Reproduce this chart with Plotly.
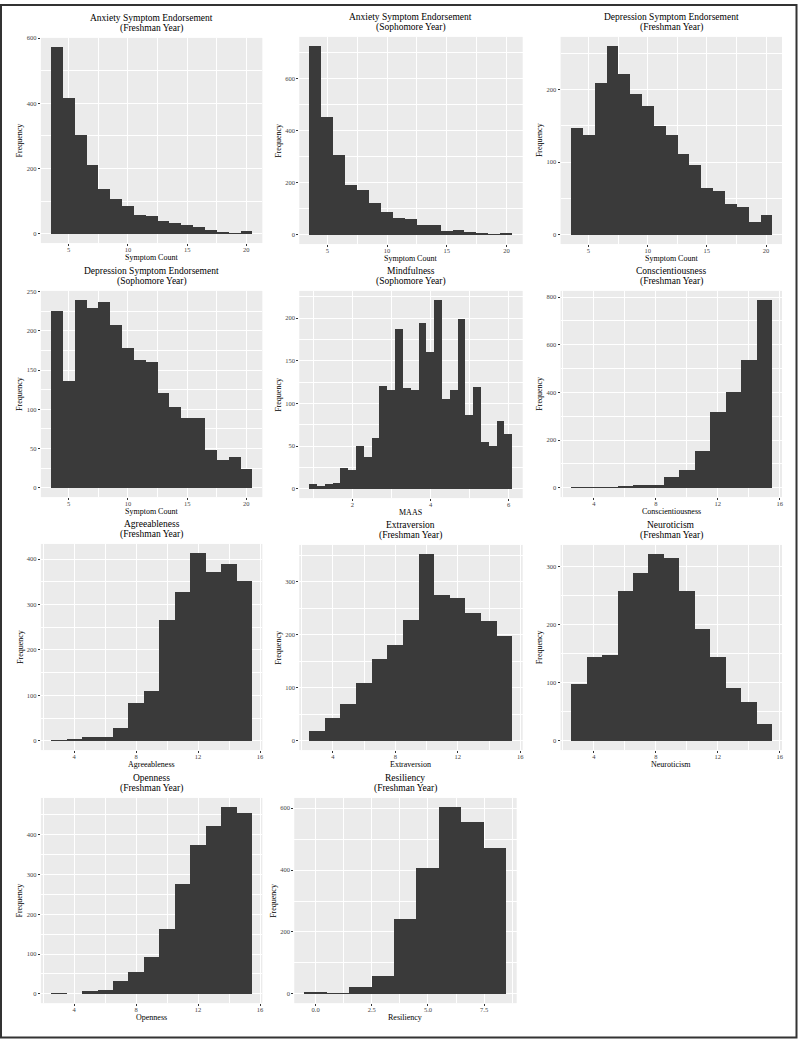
import plotly.graph_objects as go

# ---------------- data ----------------
symptom_bins = [4, 5, 6, 7, 8, 9, 10, 11, 12, 13, 14, 15, 16, 17, 18, 19, 20]
anx_fr_counts = [572, 418, 304, 212, 138, 107, 87, 59, 55, 41, 33, 26, 21, 11, 6, 2, 9]
anx_so_counts = [724, 453, 306, 191, 174, 121, 88, 64, 59, 39, 36, 15, 18, 9, 5, 1, 6]
dep_fr_counts = [148, 138, 210, 260, 222, 195, 178, 150, 138, 111, 96, 64, 60, 43, 39, 18, 28]
dep_so_counts = [225, 136, 239, 229, 237, 208, 178, 163, 161, 121, 103, 89, 89, 48, 36, 39, 24]

maas_bins = [1.0, 1.2, 1.4, 1.6, 1.8, 2.0, 2.2, 2.4, 2.6, 2.8, 3.0, 3.2, 3.4,
             3.6, 3.8, 4.0, 4.2, 4.4, 4.6, 4.8, 5.0, 5.2, 5.4, 5.6, 5.8, 6.0]
maas_counts = [6, 3, 6, 7, 24, 22, 50, 37, 60, 121, 116, 187, 118,
               116, 194, 160, 221, 105, 116, 199, 86, 120, 55, 50, 79, 64]

big5_bins = [3, 4, 5, 6, 7, 8, 9, 10, 11, 12, 13, 14, 15]
consc_counts = [1, 1, 1, 4, 10, 13, 46, 73, 154, 320, 401, 538, 787]
agree_counts = [1, 3, 9, 9, 29, 84, 110, 266, 328, 413, 372, 390, 353]
extra_counts = [18, 44, 69, 109, 154, 181, 228, 352, 276, 269, 242, 227, 197]
neuro_counts = [98, 144, 149, 259, 290, 322, 316, 258, 193, 145, 91, 67, 29]
open_counts = [2, 0, 8, 11, 33, 54, 92, 163, 275, 375, 423, 469, 455]

resil_bins = [0, 1, 2, 3, 4, 5, 6, 7, 8]
resil_counts = [5, 2, 22, 58, 241, 407, 603, 555, 473]

titles = [
    ("Anxiety Symptom Endorsement", "(Freshman Year)"),
    ("Anxiety Symptom Endorsement", "(Sophomore Year)"),
    ("Depression Symptom Endorsement", "(Freshman Year)"),
    ("Depression Symptom Endorsement", "(Sophomore Year)"),
    ("Mindfulness", "(Sophomore Year)"),
    ("Conscientiousness", "(Freshman Year)"),
    ("Agreeableness", "(Freshman Year)"),
    ("Extraversion", "(Freshman Year)"),
    ("Neuroticism", "(Freshman Year)"),
    ("Openness", "(Freshman Year)"),
    ("Resiliency", "(Freshman Year)"),
]
x_titles = ["Symptom Count", "Symptom Count", "Symptom Count", "Symptom Count",
            "MAAS", "Conscientiousness", "Agreeableness", "Extraversion",
            "Neuroticism", "Openness", "Resiliency"]
y_title = "Frequency"

# ---------------- panel set-up ----------------
series = [
    (symptom_bins, anx_fr_counts, 1.0, 5, 2.5, 200, 100, None),
    (symptom_bins, anx_so_counts, 1.0, 5, 2.5, 200, 100, None),
    (symptom_bins, dep_fr_counts, 1.0, 5, 2.5, 100, 50, None),
    (symptom_bins, dep_so_counts, 1.0, 5, 2.5, 50, 25, None),
    (maas_bins, maas_counts, 0.2, 2, 1, 50, 25, None),
    (big5_bins, consc_counts, 1.0, 4, 2, 200, 100, None),
    (big5_bins, agree_counts, 1.0, 4, 2, 100, 50, None),
    (big5_bins, extra_counts, 1.0, 4, 2, 100, 50, None),
    (big5_bins, neuro_counts, 1.0, 4, 2, 100, 50, None),
    (big5_bins, open_counts, 1.0, 4, 2, 100, 50, None),
    (resil_bins, resil_counts, 1.0, 2.5, 1.25, 200, 100, ".1f"),
]

# plotting-area boxes in pixels: (left, top, right, bottom)
boxes = [
    (41, 34, 263, 240), (300, 33, 524, 241), (562, 33, 784, 241),
    (41, 288, 263, 495), (300, 288, 524, 496), (562, 288, 784, 495),
    (41, 542, 263, 749), (300, 543, 524, 749), (562, 543, 784, 749),
    (41, 797, 263, 1003), (295, 797, 518, 1003),
]

W, H = 800, 1040
FONT = "Liberation Serif"
BAR = "#3a3a3a"
PANEL = "#EBEBEB"

fig = go.Figure()
layout = dict(
    width=W, height=H, margin=dict(l=0, r=0, t=0, b=0),
    paper_bgcolor="white", plot_bgcolor=PANEL, showlegend=False,
    font=dict(family=FONT, color="#333333"), bargap=0,
)
annotations = []

for i, ((xs, ys, bw, xd, xmd, yd, ymd, xfmt), box, (t1, t2), xt) in enumerate(
        zip(series, boxes, titles, x_titles)):
    n = i + 1
    xa = "x" if n == 1 else f"x{n}"
    ya = "y" if n == 1 else f"y{n}"
    fig.add_trace(go.Bar(x=xs, y=ys, width=bw, marker=dict(color=BAR, line=dict(width=0)),
                         xaxis=xa, yaxis=ya, hoverinfo="x+y"))
    left, top, right, bottom = box
    lo = min(xs) - bw / 2
    hi = max(xs) + bw / 2
    span = hi - lo
    ymax = max(ys)
    common = dict(showline=False, zeroline=False, ticks="outside", ticklen=2,
                  tickwidth=1, tickcolor="#333333", showgrid=True, gridcolor="white",
                  gridwidth=1, tickfont=dict(family=FONT, size=6.5, color="#444444"),
                  fixedrange=True)
    layout["xaxis" if n == 1 else f"xaxis{n}"] = dict(
        common, domain=[left / W, right / W], anchor=ya,
        range=[lo - 0.05 * span, hi + 0.05 * span], tick0=0, dtick=xd,
        ticklabelstandoff=-2,
        minor=dict(tick0=0, dtick=xmd, showgrid=True, gridcolor="white", gridwidth=0.5, ticks=""),
        **({"tickformat": xfmt} if xfmt else {}))
    layout["yaxis" if n == 1 else f"yaxis{n}"] = dict(
        common, domain=[1 - bottom / H, 1 - top / H], anchor=xa,
        range=[-0.05 * ymax, 1.05 * ymax], tick0=0, dtick=yd,
        minor=dict(tick0=0, dtick=ymd, showgrid=True, gridcolor="white", gridwidth=0.5, ticks=""))
    cx = (left + right) / 2 / W
    annotations += [
        dict(text=t1, x=cx, y=1 - (top - 20) / H, xref="paper", yref="paper",
             showarrow=False, font=dict(family=FONT, size=9.5, color="black"),
             xanchor="center", yanchor="middle"),
        dict(text=t2, x=cx, y=1 - (top - 9.5) / H, xref="paper", yref="paper",
             showarrow=False, font=dict(family=FONT, size=9.5, color="black"),
             xanchor="center", yanchor="middle"),
        dict(text=xt, x=cx, y=1 - (bottom + 14) / H, xref="paper", yref="paper",
             showarrow=False, font=dict(family=FONT, size=8, color="black"),
             xanchor="center", yanchor="middle"),
        dict(text=y_title, x=(left - 21) / W, y=1 - (top + bottom) / 2 / H,
             xref="paper", yref="paper", textangle=-90, showarrow=False,
             font=dict(family=FONT, size=8, color="black"),
             xanchor="center", yanchor="middle"),
    ]

layout["annotations"] = annotations
layout["shapes"] = [dict(type="rect", xref="paper", yref="paper",
                         x0=1 / W, x1=1 - 1.5 / W, y0=2.5 / H, y1=1 - 1 / H,
                         line=dict(color="#333333", width=2), fillcolor="rgba(0,0,0,0)")]
fig.update_layout(**layout)
fig.write_html(
    "out.html",
    config={"displayModeBar": False},
    post_script="document.body.style.margin='0';document.body.style.padding='0';"
                "document.body.style.overflow='hidden';",
)
